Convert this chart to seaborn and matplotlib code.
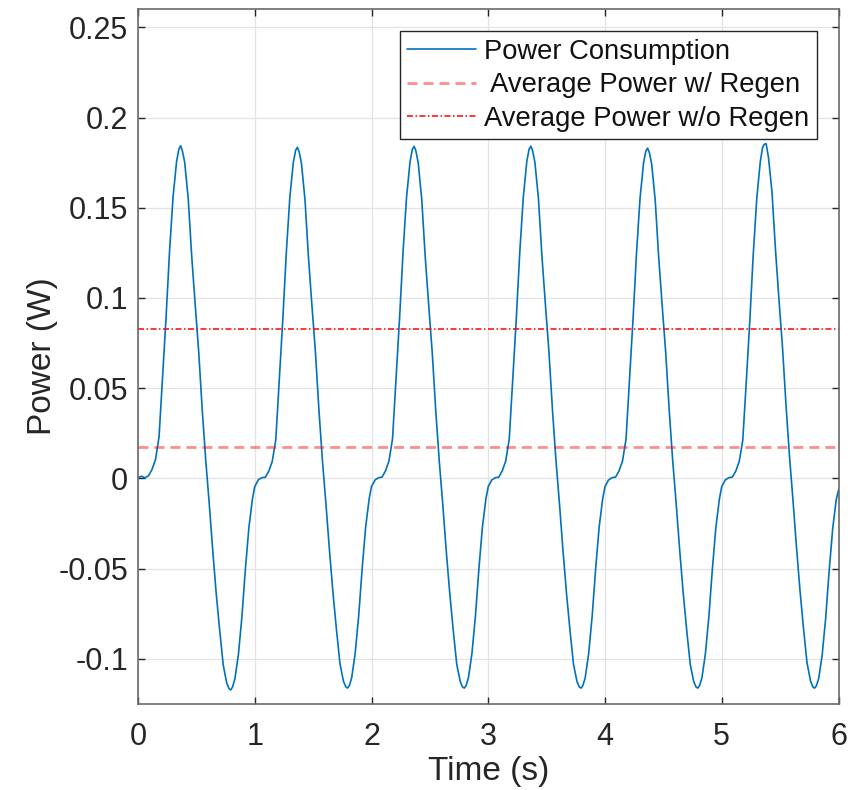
import matplotlib
matplotlib.use("Agg")
import matplotlib.pyplot as plt
import seaborn as sns
import pandas as pd

# ---------------- data ----------------
cycle_starts = [0, 1, 2, 3, 4, 5]
phase_offsets = [0.00, 0.03, 0.06, 0.09, 0.12, 0.15, 0.18, 0.21, 0.24, 0.27,
                 0.30, 0.33, 0.35, 0.365, 0.38, 0.40, 0.43, 0.46, 0.49, 0.52,
                 0.55, 0.58, 0.61, 0.64, 0.67, 0.70, 0.73, 0.76, 0.78, 0.795,
                 0.81, 0.83, 0.86, 0.89, 0.92, 0.95, 0.98]

power_cycle1 = [0.0005, 0.0012, 0.0003, 0.0015, 0.0050, 0.0105, 0.0230, 0.0560, 0.0890, 0.1260,
                0.1560, 0.1755, 0.1825, 0.1843, 0.1815, 0.1750, 0.1550, 0.1230, 0.0960, 0.0700,
                0.0380, 0.0100, -0.0140, -0.0400, -0.0640, -0.0845, -0.1035, -0.1135, -0.1165, -0.1172,
                -0.1155, -0.1110, -0.0975, -0.0765, -0.0500, -0.0270, -0.0114]
power_cycle2 = [-0.0045, -0.0008, 0.0004, 0.0006, 0.0040, 0.0095, 0.0215, 0.0545, 0.0880, 0.1250,
                0.1555, 0.1750, 0.1818, 0.1835, 0.1810, 0.1745, 0.1545, 0.1225, 0.0955, 0.0695,
                0.0375, 0.0095, -0.0145, -0.0400, -0.0635, -0.0840, -0.1028, -0.1125, -0.1155, -0.1162,
                -0.1148, -0.1105, -0.0970, -0.0762, -0.0498, -0.0268, -0.0112]
power_cycle3 = [-0.0045, -0.0009, 0.0004, 0.0007, 0.0042, 0.0098, 0.0220, 0.0550, 0.0885, 0.1255,
                0.1558, 0.1755, 0.1825, 0.1840, 0.1815, 0.1748, 0.1548, 0.1228, 0.0958, 0.0698,
                0.0378, 0.0098, -0.0142, -0.0400, -0.0636, -0.0842, -0.1030, -0.1126, -0.1156, -0.1162,
                -0.1148, -0.1106, -0.0971, -0.0763, -0.0499, -0.0269, -0.0113]
power_cycle4 = [-0.0045, -0.0009, 0.0004, 0.0007, 0.0042, 0.0098, 0.0220, 0.0550, 0.0885, 0.1255,
                0.1558, 0.1756, 0.1826, 0.1841, 0.1816, 0.1749, 0.1549, 0.1229, 0.0959, 0.0699,
                0.0379, 0.0099, -0.0141, -0.0399, -0.0636, -0.0842, -0.1030, -0.1126, -0.1156, -0.1162,
                -0.1148, -0.1106, -0.0971, -0.0763, -0.0499, -0.0269, -0.0113]
power_cycle5 = [-0.0045, -0.0009, 0.0004, 0.0007, 0.0041, 0.0097, 0.0218, 0.0548, 0.0882, 0.1250,
                0.1552, 0.1748, 0.1815, 0.1830, 0.1806, 0.1740, 0.1542, 0.1224, 0.0955, 0.0696,
                0.0377, 0.0097, -0.0143, -0.0400, -0.0636, -0.0842, -0.1030, -0.1126, -0.1156, -0.1162,
                -0.1148, -0.1106, -0.0971, -0.0763, -0.0499, -0.0269, -0.0113]
power_cycle6 = [-0.0045, -0.0009, 0.0004, 0.0007, 0.0040, 0.0095, 0.0212, 0.0535, 0.0870, 0.1245,
                0.1552, 0.1755, 0.1835, 0.1852, 0.1855, 0.1780, 0.1590, 0.1270, 0.0990, 0.0730,
                0.0410, 0.0125, -0.0120, -0.0380, -0.0620, -0.0830, -0.1020, -0.1122, -0.1155, -0.1162,
                -0.1150, -0.1110, -0.0980, -0.0775, -0.0512, -0.0280, -0.0120]
end_time = 6.0
end_power = -0.0065

avg_power_regen = 0.0176
avg_power_no_regen = 0.0828

series_labels = ["Power Consumption", " Average Power w/ Regen", "Average Power w/o Regen"]
x_ticks = [0, 1, 2, 3, 4, 5, 6]
y_ticks = [-0.1, -0.05, 0, 0.05, 0.1, 0.15, 0.2, 0.25]
y_tick_labels = ["-0.1", "-0.05", "0", "0.05", "0.1", "0.15", "0.2", "0.25"]

# ---------------- build table ----------------
cycles = [power_cycle1, power_cycle2, power_cycle3, power_cycle4, power_cycle5, power_cycle6]
times, powers = [], []
for start, vals in zip(cycle_starts, cycles):
    for off, v in zip(phase_offsets, vals):
        times.append(start + off)
        powers.append(v)
times.append(end_time)
powers.append(end_power)
df = pd.DataFrame({"Time": times, "Power": powers})

# ---------------- style ----------------
sns.set_theme(style="whitegrid")
plt.rcParams["font.family"] = ["Liberation Sans", "DejaVu Sans"]
plt.rcParams["lines.scale_dashes"] = False

fig = plt.figure(figsize=(8.6, 7.9), dpi=100)
ax = fig.add_axes([0.1605, 0.1089, 0.8145, 0.8794])
ax.set_facecolor("white")

sns.lineplot(data=df, x="Time", y="Power", ax=ax, color="#0072BD", lw=1.2,
             estimator=None, sort=False, label=series_labels[0])
ax.axhline(avg_power_regen, color="#FF0000", alpha=0.45, lw=2.0,
           linestyle=(0, (7.2, 4.3)), label=series_labels[1])
ax.axhline(avg_power_no_regen, color="#FF0000", lw=1.1,
           linestyle=(0, (4.3, 1.8, 1.1, 1.8)), label=series_labels[2])

ax.set_xlim(0, 6)
ax.set_ylim(-0.125, 0.26)
ax.set_xticks(x_ticks)
ax.set_xticklabels([str(t) for t in x_ticks])
ax.set_yticks(y_ticks)
ax.set_yticklabels(y_tick_labels)

ax.grid(True, color="#e3e3e3", lw=0.9)
for s in ax.spines.values():
    s.set_visible(True)
    s.set_color("#6a6a6a")
    s.set_linewidth(1.2)

ax.tick_params(axis="both", which="major", direction="in", length=5, width=1,
               color="#262626", labelsize=22, labelcolor="#262626", pad=7,
               top=True, right=True, bottom=True, left=True)
ax.tick_params(axis="x", pad=13)

ax.set_xlabel("Time (s)", fontsize=24, color="#262626", labelpad=3)
ax.set_ylabel("Power (W)", fontsize=24, color="#262626", labelpad=0.5)

leg = ax.legend(loc="upper right", fontsize=19.7, frameon=True, fancybox=False,
                edgecolor="#262626", framealpha=1, borderaxespad=0.8,
                handlelength=2.5, handletextpad=0.3, labelspacing=0.28,
                borderpad=0.27)
leg.get_frame().set_linewidth(1.0)
for t in leg.get_texts():
    t.set_color("#111111")

fig.savefig("out.png", dpi=100)
